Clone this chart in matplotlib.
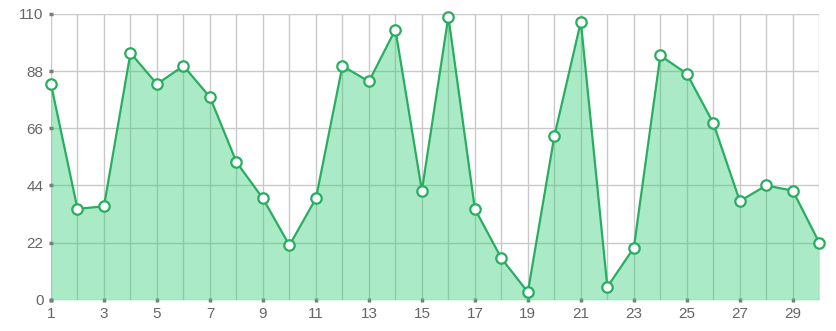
import numpy as np
import matplotlib.pyplot as plt

plt.rcParams['font.family'] = ['Liberation Sans', 'DejaVu Sans']

days = list(range(1, 31))
values = [83, 35, 36, 95, 83, 90, 78, 53, 39, 21,
          39, 90, 84, 104, 42, 109, 35, 16, 3, 63,
          107, 5, 20, 94, 87, 68, 38, 44, 42, 22]
y_ticks = [0, 22, 44, 66, 88, 110]
x_labels = list(range(1, 30, 2))

line_color = '#27ae60'
fill_color = (46 / 255, 204 / 255, 113 / 255, 0.4)

fig = plt.figure(figsize=(8.36, 3.31), dpi=100)
ax = fig.add_axes([0.061, 0.094, 0.919, 0.864])

ax.fill_between(days, values, 0, color=fill_color, linewidth=0, zorder=2)
ax.plot(days, values, color=line_color, linewidth=1.6, zorder=3,
        marker='o', markersize=7.5, markerfacecolor='white',
        markeredgecolor=line_color, markeredgewidth=1.6, clip_on=False)

ax.set_xlim(1, 30)
ax.set_ylim(0, 110)
ax.set_xticks(x_labels)
ax.set_xticks(days, minor=True)
ax.set_yticks(y_ticks)

ax.grid(True, which='both', color='#c9c9c9', linewidth=1.0, zorder=1)
ax.set_axisbelow(True)
for s in ax.spines.values():
    s.set_visible(False)

ax.tick_params(axis='both', which='major', length=2.5, width=2.5, color='#7a7a7a',
               direction='inout', labelcolor='#666666', labelsize=11, pad=4)
ax.tick_params(axis='x', which='minor', length=0)

fig.savefig('out.png', dpi=100)
